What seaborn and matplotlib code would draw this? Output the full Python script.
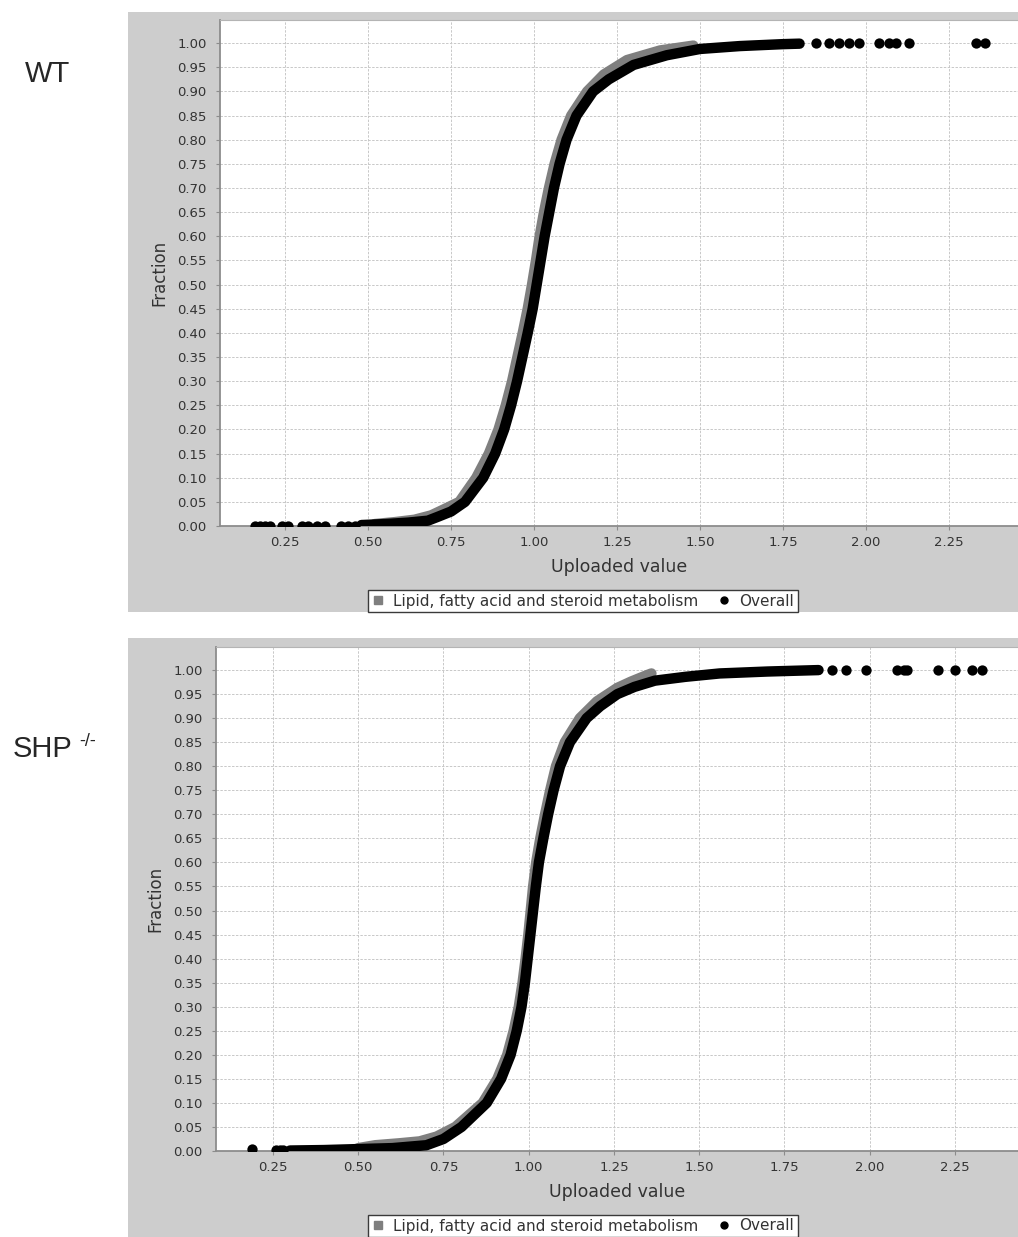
import numpy as np
import pandas as pd
import matplotlib
matplotlib.use("Agg")
import matplotlib.pyplot as plt
from matplotlib.lines import Line2D
from matplotlib.patches import Rectangle
import seaborn as sns

# ---- data (cumulative fraction vs uploaded value) ----
# WT panel
wt_overall_x = [0.48, 0.55, 0.62, 0.68, 0.71, 0.75, 0.792, 0.847, 0.883, 0.910, 0.931, 0.949,
                0.965, 0.981, 0.996, 1.008, 1.020, 1.032, 1.046, 1.060, 1.077, 1.098, 1.128,
                1.178, 1.225, 1.30, 1.40, 1.50, 1.62, 1.75, 1.80]
wt_overall_y = [0.002, 0.004, 0.007, 0.011, 0.019, 0.03, 0.05, 0.10, 0.15, 0.20, 0.25, 0.30,
                0.35, 0.40, 0.45, 0.50, 0.55, 0.60, 0.65, 0.70, 0.75, 0.80, 0.85,
                0.90, 0.925, 0.955, 0.975, 0.988, 0.994, 0.998, 0.999]
wt_lipid_x = [0.52, 0.58, 0.64, 0.69, 0.73, 0.775, 0.826, 0.864, 0.893, 0.915, 0.934, 0.950,
              0.966, 0.981, 0.994, 1.006, 1.017, 1.030, 1.045, 1.062, 1.083, 1.112, 1.16,
              1.21, 1.28, 1.38, 1.48]
wt_lipid_y = [0.004, 0.008, 0.013, 0.022, 0.035, 0.05, 0.10, 0.15, 0.20, 0.25, 0.30, 0.35,
              0.40, 0.45, 0.50, 0.55, 0.60, 0.65, 0.70, 0.75, 0.80, 0.85, 0.90,
              0.935, 0.965, 0.985, 0.995]
wt_low_x = [0.16, 0.175, 0.19, 0.205, 0.24, 0.26, 0.30, 0.32, 0.345, 0.37, 0.42, 0.44, 0.46]
wt_low_y = [0.001] * 13
wt_high_x = [1.85, 1.89, 1.92, 1.95, 1.98, 2.04, 2.07, 2.09, 2.13, 2.33, 2.36]
wt_high_y = [1.0] * 11

# SHP-/- panel
shp_overall_x = [0.30, 0.40, 0.50, 0.60, 0.70, 0.75, 0.803, 0.877, 0.919, 0.947, 0.965, 0.979,
                 0.989, 0.997, 1.005, 1.013, 1.021, 1.030, 1.043, 1.057, 1.073, 1.092, 1.121,
                 1.17, 1.21, 1.26, 1.31, 1.37, 1.46, 1.56, 1.70, 1.85]
shp_overall_y = [0.001, 0.002, 0.004, 0.006, 0.012, 0.025, 0.05, 0.10, 0.15, 0.20, 0.25, 0.30,
                 0.35, 0.40, 0.45, 0.50, 0.55, 0.60, 0.65, 0.70, 0.75, 0.80, 0.85,
                 0.90, 0.925, 0.95, 0.965, 0.978, 0.986, 0.993, 0.997, 1.0]
shp_lipid_x = [0.50, 0.55, 0.62, 0.68, 0.73, 0.785, 0.865, 0.908, 0.937, 0.956, 0.971, 0.982,
               0.991, 0.999, 1.006, 1.013, 1.022, 1.034, 1.048, 1.063, 1.080, 1.106, 1.15,
               1.20, 1.26, 1.30, 1.345, 1.36]
shp_lipid_y = [0.006, 0.012, 0.016, 0.02, 0.03, 0.05, 0.10, 0.15, 0.20, 0.25, 0.30, 0.35,
               0.40, 0.45, 0.50, 0.55, 0.60, 0.65, 0.70, 0.75, 0.80, 0.85, 0.90,
               0.935, 0.963, 0.976, 0.989, 0.993]
shp_low_x = [0.19, 0.26, 0.27, 0.28]
shp_low_y = [0.004, 0.002, 0.002, 0.002]
shp_high_x = [1.89, 1.93, 1.99, 2.08, 2.10, 2.11, 2.20, 2.25, 2.30, 2.33]
shp_high_y = [1.0] * 10

series_names = ["Lipid, fatty acid and steroid metabolism", "Overall"]
y_ticks = np.round(np.arange(0, 1.0001, 0.05), 2)
x_ticks = [0.25, 0.50, 0.75, 1.00, 1.25, 1.50, 1.75, 2.00, 2.25]

GRAY = "#7f7f7f"
BG = "#cdcdcd"
TXT = "#333333"

sns.set_style("whitegrid", {"grid.color": "#c8c8c8", "grid.linestyle": (0, (2.5, 1.5))})
plt.rcParams["font.family"] = ["DejaVu Sans"]

W, H = 1018, 1237
fig = plt.figure(figsize=(W / 100, H / 100), dpi=100)
fig.patch.set_facecolor("white")

# gray chart backgrounds (pixel boxes), kept behind the axes
for (x0, y0, x1, y1) in [(128, 12, 1018, 612), (128, 638, 1018, 1237)]:
    fig.patches.append(Rectangle((x0 / W, 1 - y1 / H), (x1 - x0) / W, (y1 - y0) / H,
                                 transform=fig.transFigure, facecolor=BG, edgecolor="none",
                                 zorder=-10))


def panel(rect_px, xlim, lipid, overall, low, high, legend_center):
    l, t, r, b = rect_px
    ax = fig.add_axes([l / W, 1 - b / H, (r - l) / W, (b - t) / H])
    ax.set_zorder(1)
    ax.set_facecolor("white")

    lip = pd.DataFrame({"x": lipid[0], "y": lipid[1]})
    ovr = pd.DataFrame({"x": overall[0], "y": overall[1]})
    sns.lineplot(data=lip, x="x", y="y", sort=False, estimator=None, ax=ax, color=GRAY,
                 lw=7.5, solid_capstyle="round", solid_joinstyle="round", zorder=3)
    sns.lineplot(data=ovr, x="x", y="y", sort=False, estimator=None, ax=ax, color="black",
                 lw=7.5, solid_capstyle="round", solid_joinstyle="round", zorder=4)
    dots = pd.DataFrame({"x": low[0] + high[0], "y": low[1] + high[1]})
    sns.scatterplot(data=dots, x="x", y="y", ax=ax, color="black", s=55, linewidth=0,
                    zorder=5)

    ax.set_xlim(*xlim)
    ax.set_ylim(0, 1.048)
    ax.set_xticks(x_ticks)
    ax.set_xticklabels([f"{v:.2f}" for v in x_ticks])
    ax.set_yticks(y_ticks)
    ax.set_yticklabels([f"{v:.2f}" for v in y_ticks])
    ax.tick_params(axis="both", direction="out", length=3, width=0.8, color="#8c8c8c",
                   labelsize=9.5, labelcolor=TXT)
    ax.tick_params(axis="x", pad=4.5, bottom=True)
    ax.tick_params(axis="y", pad=6.5, left=True)
    ax.grid(True, lw=0.7)
    for s in ["left", "bottom"]:
        ax.spines[s].set_color("#8c8c8c")
        ax.spines[s].set_linewidth(1.3)
    ax.spines["top"].set_color("#b4b4b4")
    ax.spines["top"].set_linewidth(0.8)
    ax.spines["right"].set_visible(False)

    ax.set_xlabel("Uploaded value", fontsize=12.5, color=TXT)
    ax.set_ylabel("Fraction", fontsize=12, color=TXT)
    ax.xaxis.set_label_coords(0.5, -32 / (b - t))
    ax.yaxis.set_label_coords(-52 / (r - l), 0.5)

    handles = [Line2D([], [], ls="none", marker="s", ms=5.5, color=GRAY),
               Line2D([], [], ls="none", marker="o", ms=5, color="black")]
    leg = ax.legend(handles, series_names, loc="center",
                    bbox_to_anchor=(legend_center[0] / W, 1 - legend_center[1] / H),
                    bbox_transform=fig.transFigure, ncol=2, frameon=True, fancybox=False,
                    fontsize=11, handlelength=0.8, handletextpad=0.6, columnspacing=1.3,
                    borderpad=0.25, borderaxespad=0)
    leg.get_frame().set_edgecolor("#3a3a3a")
    leg.get_frame().set_linewidth(1.0)
    leg.get_frame().set_facecolor("white")
    leg.get_frame().set_alpha(1)
    for txt in leg.get_texts():
        txt.set_color(TXT)
    return ax


panel((220, 20, 1018, 526), (0.054, 2.458),
      (wt_lipid_x, wt_lipid_y), (wt_overall_x, wt_overall_y),
      (wt_low_x, wt_low_y), (wt_high_x, wt_high_y), (583, 601))
panel((216, 647, 1018, 1151), (0.083, 2.435),
      (shp_lipid_x, shp_lipid_y), (shp_overall_x, shp_overall_y),
      (shp_low_x, shp_low_y), (shp_high_x, shp_high_y), (583, 1226))

lab = ["Liberation Sans", "DejaVu Sans"]
fig.text(25 / W, 1 - 74 / H, "WT", family=lab, fontsize=21, va="center", ha="left")
fig.text(13 / W, 1 - 749 / H, "SHP", family=lab, fontsize=21, va="center", ha="left")
fig.text(79 / W, 1 - 741 / H, "-/-", family=lab, fontsize=13, va="center", ha="left")

fig.savefig("out.png", dpi=100, facecolor="white")
